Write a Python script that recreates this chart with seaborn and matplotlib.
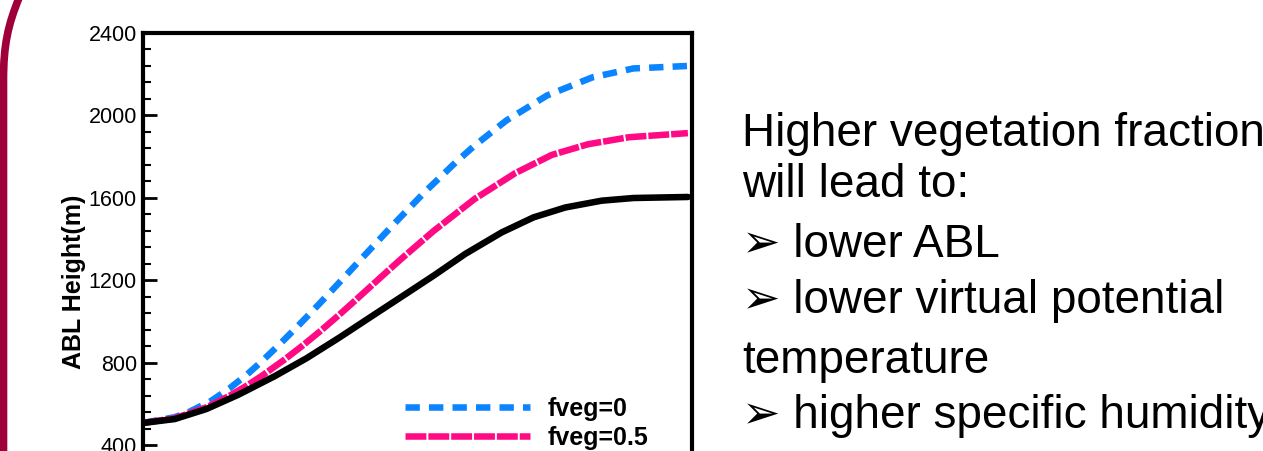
import numpy as np
import pandas as pd
import seaborn as sns
import matplotlib.pyplot as plt
from matplotlib.path import Path
from matplotlib.patches import PathPatch

# ABL height (m), x = hours since start of run
t_veg0 = [0, 0.7, 1.0, 1.5, 1.9, 2.3, 2.6, 3.0, 3.4, 3.7, 4.1, 4.4, 4.8, 5.5, 6.2, 6.9, 7.3, 8.0, 8.9, 9.9, 10.8, 12.0]
h_veg0 = [507, 535, 559, 614, 674, 744, 803, 887, 975, 1043, 1136, 1207, 1302, 1467, 1627, 1775, 1853, 1975, 2097, 2185, 2228, 2240]

t_veg05 = [0, 0.7, 1.4, 1.9, 2.3, 2.6, 3.1, 3.5, 3.9, 4.3, 4.6, 5.0, 5.4, 5.7, 6.4, 7.3, 8.2, 9.0, 9.8, 10.7, 12.0]
h_veg05 = [507, 530, 583, 638, 690, 733, 812, 880, 952, 1028, 1087, 1167, 1247, 1306, 1439, 1594, 1720, 1808, 1860, 1894, 1914]

t_veg1 = [0, 0.7, 1.4, 2.1, 2.9, 3.6, 4.3, 5.1, 5.8, 6.4, 7.1, 7.9, 8.6, 9.3, 10.1, 10.8, 12.0]
h_veg1 = [507, 526, 575, 644, 734, 821, 918, 1034, 1135, 1222, 1328, 1432, 1505, 1553, 1586, 1599, 1604]

labels = ["fveg=0", "fveg=0.5", "fveg=1"]
colors = {"fveg=0": "#0A84FF", "fveg=0.5": "#FF0A84", "fveg=1": "black"}
dashes = {"fveg=0": (2.2, 1.4), "fveg=0.5": (3.2, 0.3), "fveg=1": ""}

bullets = ["Higher vegetation fraction", "will lead to:", "\u27a2 lower ABL",
           "\u27a2 lower virtual potential", "temperature", "\u27a2 higher specific humidity"]

df = pd.concat([
    pd.DataFrame({"t": t_veg0, "h": h_veg0, "run": labels[0]}),
    pd.DataFrame({"t": t_veg05, "h": h_veg05, "run": labels[1]}),
    pd.DataFrame({"t": t_veg1, "h": h_veg1, "run": labels[2]}),
])

sns.set_style("white")
plt.rcParams["font.family"] = ["Liberation Sans", "DejaVu Sans"]
plt.rcParams.update({"text.color": "black", "axes.labelcolor": "black",
                     "ytick.color": "black", "xtick.color": "black"})

W, H = 1263, 451
fig = plt.figure(figsize=(W / 100, H / 100), dpi=100)
# the plot is cropped at the bottom of the slide
ax = fig.add_axes([143 / W, (H - 527.4) / H, 549 / W, 494.4 / H])

sns.lineplot(data=df, x="t", y="h", hue="run", style="run", hue_order=labels,
             style_order=labels, palette=colors, dashes=dashes, linewidth=4.7,
             estimator=None, ax=ax)
for ln in ax.get_lines():
    ln.set_solid_joinstyle("round")
    ln.set_dash_joinstyle("round")

ax.set_xlim(0, 12.09)
ax.set_ylim(0, 2400)
ax.set_yticks(np.arange(400, 2401, 400))
ax.set_yticks(np.arange(0, 2401, 80), minor=True)
ax.set_xticks([])
ax.tick_params(axis="y", which="major", direction="in", length=10, width=2,
               labelsize=15.5, pad=4.5, left=True)
ax.tick_params(axis="y", which="minor", direction="in", length=6, width=1.5, left=True)
for s in ax.spines.values():
    s.set_linewidth(3)
    s.set_color("black")
ax.set_xlabel("")
ax.set_ylabel("ABL Height(m)", fontsize=18, fontweight="bold")
ax.yaxis.set_label_coords(-0.1035, 0.496)

handles, labs = ax.get_legend_handles_labels()
ax.legend(handles[:2], labs[:2], loc="upper left",
          bbox_to_anchor=(405 / W, 1 - 397 / H), bbox_transform=fig.transFigure,
          frameon=False, borderpad=0, borderaxespad=0, handlelength=5,
          handletextpad=0.7, labelspacing=0.2,
          prop={"size": 18, "weight": "bold"})

# slide decoration on the left edge
verts = [(19 / W, 1 + 2 / H), (8 / W, 1 - 25 / H), (3.5 / W, 1 - 45 / H),
         (3.5 / W, 1 - 80 / H), (3.5 / W, -0.05)]
codes = [Path.MOVETO, Path.CURVE4, Path.CURVE4, Path.CURVE4, Path.LINETO]
fig.add_artist(PathPatch(Path(verts, codes), transform=fig.transFigure,
                         fill=False, edgecolor="#A0003A", linewidth=5.5))

baselines = [146, 197, 257, 313, 373, 428]
for text, y in zip(bullets, baselines):
    fig.text(742 / W, 1 - y / H, text, fontsize=33, va="baseline", ha="left",
             color="black", family=["Liberation Sans", "DejaVu Sans"])

fig.savefig("out.png", dpi=100)
